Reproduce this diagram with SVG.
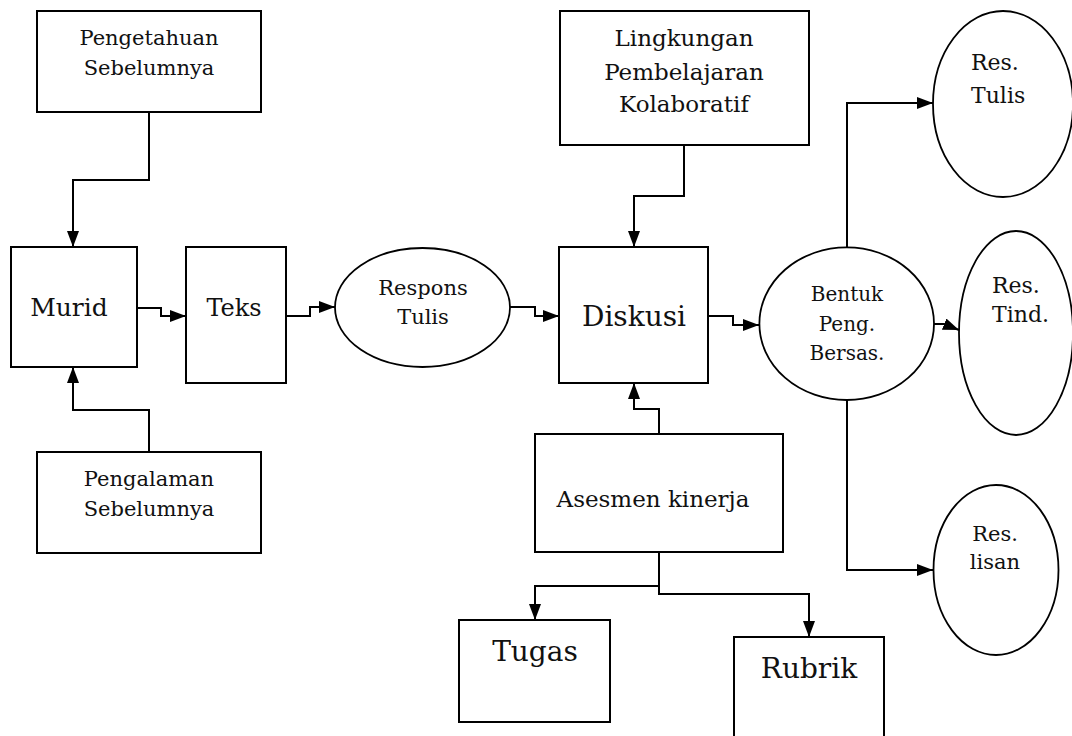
<svg xmlns="http://www.w3.org/2000/svg" width="1072" height="736" viewBox="0 0 1072 736">
<style>
.box{fill:#fff;stroke:#000;stroke-width:2}
.ell{fill:#fff;stroke:#000;stroke-width:1.8}
.con{fill:none;stroke:#000;stroke-width:2;marker-end:url(#ah)}
text{font-family:"DejaVu Serif","Liberation Serif",serif;fill:#111;text-anchor:middle}
.s{text-anchor:start}
</style>
<defs>
<marker id="ah" markerUnits="userSpaceOnUse" markerWidth="16" markerHeight="12" refX="16" refY="6" orient="auto">
<path d="M0,0 L16,6 L0,12 z" fill="#000"/>
</marker>
</defs>
<rect width="1072" height="736" fill="#fff"/>
<g id="connectors">
<path class="con" d="M149,112 V180 H73 V247"/>
<path class="con" d="M149,452 V410 H73 V367"/>
<path class="con" d="M137,308 H161 V316 H186"/>
<path class="con" d="M286,316 H310 V307 H335"/>
<path class="con" d="M510,307 H535 V316 H559"/>
<path class="con" d="M684,145 V196 H634 V247"/>
<path class="con" d="M659,434 V409 H634 V383"/>
<path class="con" d="M708,316 H733 V325 H759"/>
<path class="con" d="M847,247 V103 H933"/>
<path class="con" d="M847,400 V570 H933"/>
<path class="con" d="M934,324 H944 L959,330"/>
<path class="con" d="M659,552 V586 H535 V620"/>
<path class="con" d="M659,552 V594 H809 V637"/>
</g>
<g id="pengetahuan">
<rect class="box" x="37" y="11" width="224" height="101"/>
<text x="149" y="45" font-size="21">Pengetahuan</text>
<text x="149" y="75" font-size="21">Sebelumnya</text>
</g>
<g id="murid">
<rect class="box" x="11" y="247" width="126" height="120"/>
<text x="69" y="316" font-size="25">Murid</text>
</g>
<g id="teks">
<rect class="box" x="186" y="247" width="100" height="136"/>
<text x="234" y="316" font-size="24">Teks</text>
</g>
<g id="pengalaman">
<rect class="box" x="37" y="452" width="224" height="101"/>
<text x="149" y="486" font-size="21">Pengalaman</text>
<text x="149" y="516" font-size="21">Sebelumnya</text>
</g>
<g id="respons">
<ellipse class="ell" cx="422.5" cy="307.5" rx="87.5" ry="59.5"/>
<text x="423" y="295" font-size="21">Respons</text>
<text x="423" y="324" font-size="21">Tulis</text>
</g>
<g id="lingkungan">
<rect class="box" x="560" y="11" width="249" height="134"/>
<text x="684" y="46" font-size="23">Lingkungan</text>
<text x="684" y="80" font-size="23">Pembelajaran</text>
<text x="684" y="112" font-size="23">Kolaboratif</text>
</g>
<g id="diskusi">
<rect class="box" x="559" y="247" width="149" height="136"/>
<text x="634" y="326" font-size="28">Diskusi</text>
</g>
<g id="asesmen">
<rect class="box" x="535" y="434" width="248" height="118"/>
<text x="653" y="507" font-size="23">Asesmen kinerja</text>
</g>
<g id="tugas">
<rect class="box" x="459" y="620" width="151" height="102"/>
<text x="535" y="661" font-size="28">Tugas</text>
</g>
<g id="rubrik">
<rect class="box" x="734" y="637" width="150" height="110"/>
<text x="809" y="678" font-size="28">Rubrik</text>
</g>
<g id="bentuk">
<ellipse class="ell" cx="846.7" cy="323.7" rx="87.3" ry="76.3"/>
<text x="847" y="301" font-size="20">Bentuk</text>
<text x="847" y="331" font-size="20">Peng.</text>
<text x="847" y="360" font-size="20">Bersas.</text>
</g>
<g id="res-tulis">
<ellipse class="ell" cx="1003" cy="104" rx="70" ry="93"/>
<text class="s" x="971" y="70" font-size="22">Res.</text>
<text class="s" x="971" y="103" font-size="22">Tulis</text>
</g>
<g id="res-tind">
<ellipse class="ell" cx="1016" cy="333" rx="57" ry="102"/>
<text class="s" x="992" y="293" font-size="22">Res.</text>
<text class="s" x="992" y="322" font-size="22">Tind.</text>
</g>
<g id="res-lisan">
<ellipse class="ell" cx="996" cy="570" rx="62.5" ry="85"/>
<text x="995" y="541" font-size="21">Res.</text>
<text x="995" y="569" font-size="21">lisan</text>
</g>
</svg>
